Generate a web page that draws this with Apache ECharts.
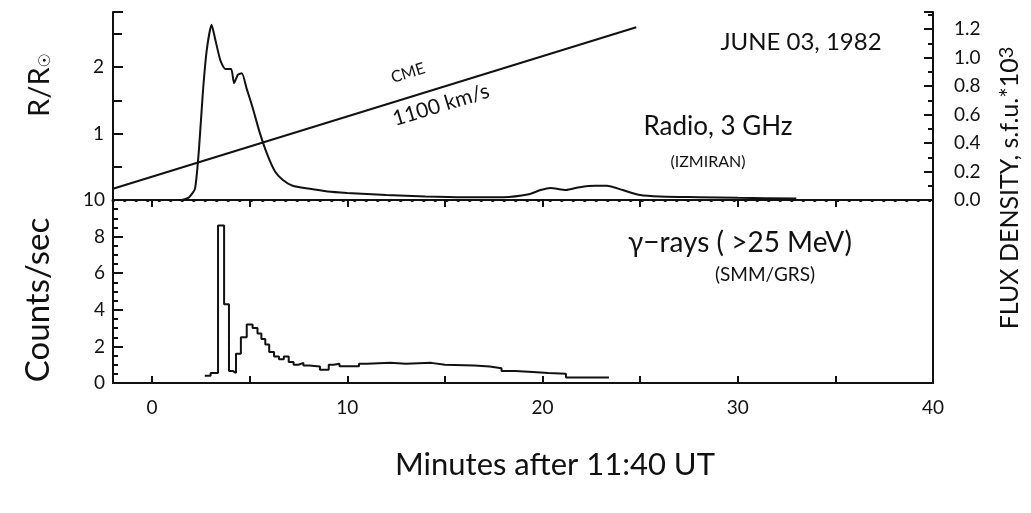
<!DOCTYPE html>
<html>
<head>
<meta charset="utf-8">
<script src="https://cdn.jsdelivr.net/npm/echarts@6/dist/echarts.min.js"></script>
<style>
html,body{margin:0;padding:0;background:#fff;}
#chart{width:1031px;height:513px;}
</style>
</head>
<body>
<div id="chart"></div>
<script>
// ---- data ----
const radioTime = [0.5, 1.5, 1.9, 2.2, 2.4, 2.6, 2.8, 3.05, 3.25, 3.5, 3.75, 4.05, 4.2, 4.4, 4.6, 4.85, 5.15, 5.5, 5.9, 6.3, 6.7, 7.2, 8, 9, 10, 12, 14, 16, 18, 19.3, 19.9, 20.4, 21.2, 21.9, 22.7, 23.3, 24.1, 25.0, 26, 28, 30, 33];
const radioFlux = [0, 0, 0.02, 0.08, 0.35, 0.75, 1.05, 1.23, 1.12, 0.98, 0.92, 0.92, 0.82, 0.88, 0.89, 0.78, 0.65, 0.48, 0.32, 0.2, 0.14, 0.1, 0.08, 0.06, 0.05, 0.035, 0.025, 0.02, 0.02, 0.04, 0.07, 0.085, 0.07, 0.09, 0.1, 0.1, 0.07, 0.035, 0.025, 0.02, 0.015, 0.01];

const gammaTime = [2.7, 3.0, 3.38, 3.69, 3.94, 4.15, 4.3, 4.55, 4.85, 5.15, 5.4, 5.6, 5.8, 6.0, 6.25, 6.5, 6.75, 7.0, 7.25, 7.5, 7.75, 8.05, 8.6, 9.05, 9.3, 9.6, 10.6, 11.0, 12.2, 13.0, 14.3, 15.0, 16.5, 17.3, 17.9, 18.6, 19.5, 20.3, 21.2, 23.4];
const gammaCounts = [0.4, 0.55, 8.6, 4.3, 0.65, 0.55, 1.6, 2.5, 3.2, 3.0, 2.7, 2.4, 2.1, 1.7, 1.45, 1.3, 1.45, 1.15, 1.0, 1.1, 0.95, 0.9, 0.72, 1.0, 1.05, 0.92, 1.05, 1.1, 1.05, 1.1, 1.0, 0.95, 0.9, 0.8, 0.65, 0.6, 0.55, 0.5, 0.3, 0.3];

const cmeTime = [-2, 24.8];
const cmeHeight = [0.17, 2.6];

const xLabelTicks = [0, 10, 20, 30, 40];
const xMinorTicks = [0, 5, 10, 15, 20, 25, 30, 35, 40];
const rLabelTicks = [1, 2];

// ---- chart ----
const FONT = 'Lato';
const INK = '#111';
const chart = echarts.init(document.getElementById('chart'), null, {renderer: 'canvas'});

const zip = (a, b) => a.map((v, i) => [v, b[i]]);

const L = 113, R = 933, TOP = 12, MID = 200, BOT = 383;

function txt(text, x, y, size, rot) {
  return {
    type: 'text', x: x, y: y, rotation: (rot || 0) * Math.PI / 180,
    style: {text: text, fill: INK, font: size + 'px ' + FONT, align: 'center', verticalAlign: 'middle'}
  };
}

const option = {
  backgroundColor: '#fff',
  animation: false,
  grid: [
    {left: L, right: 1031 - R, top: TOP, height: MID - TOP, outerBoundsMode: 'none', containLabel: false},
    {left: L, right: 1031 - R, top: MID, height: BOT - MID, outerBoundsMode: 'none', containLabel: false}
  ],
  xAxis: [
    { // top panel: dotted zero line
      gridIndex: 0, type: 'value', min: -2, max: 40, position: 'bottom',
      axisLine: {show: true, onZero: false, lineStyle: {color: INK, width: 3, type: [0.5, 11], cap: 'round'}},
      axisTick: {show: false}, axisLabel: {show: false}, splitLine: {show: false}
    },
    { // top frame
      gridIndex: 0, type: 'value', min: -2, max: 40, position: 'top',
      axisLine: {show: true, lineStyle: {color: INK, width: 2}},
      axisTick: {show: true, inside: true, length: 7, customValues: xMinorTicks, lineStyle: {color: INK, width: 2}},
      axisLabel: {show: false}, splitLine: {show: false}
    },
    { // bottom axis
      gridIndex: 1, type: 'value', min: -2, max: 40, position: 'bottom',
      axisLine: {show: true, onZero: false, lineStyle: {color: INK, width: 2}},
      axisTick: {show: true, inside: true, length: 7, customValues: xMinorTicks, lineStyle: {color: INK, width: 2}},
      axisLabel: {show: true, customValues: xLabelTicks, margin: 15, color: INK, fontFamily: FONT, fontSize: 19},
      splitLine: {show: false}
    }
  ],
  yAxis: [
    { // R/Rsun
      gridIndex: 0, type: 'value', min: 0, max: 2.83, interval: 1, position: 'left',
      axisLine: {show: true, onZero: false, lineStyle: {color: INK, width: 2}},
      axisTick: {show: true, inside: true, length: 10, lineStyle: {color: INK, width: 2}},
      minorTick: {show: true, splitNumber: 2, length: 9, lineStyle: {color: INK, width: 2}},
      axisLabel: {show: true, margin: 9, color: INK, fontFamily: FONT, fontSize: 19,
        formatter: v => (rLabelTicks.indexOf(v) >= 0 ? String(v) : '')},
      splitLine: {show: false}, minorSplitLine: {show: false}
    },
    { // flux density
      gridIndex: 0, type: 'value', min: 0, max: 1.32, interval: 0.2, position: 'right',
      axisLine: {show: true, onZero: false, lineStyle: {color: INK, width: 2}},
      axisTick: {show: true, inside: true, length: 9, lineStyle: {color: INK, width: 2}},
      minorTick: {show: true, splitNumber: 2, length: 5, lineStyle: {color: INK, width: 2}},
      axisLabel: {show: true, margin: 21, color: INK, fontFamily: FONT, fontSize: 19,
        formatter: v => (v > 1.25 ? '' : v.toFixed(1))},
      splitLine: {show: false}, minorSplitLine: {show: false}
    },
    { // counts/sec
      gridIndex: 1, type: 'value', min: 0, max: 10, interval: 2, position: 'left',
      axisLine: {show: true, onZero: false, lineStyle: {color: INK, width: 2}},
      axisTick: {show: true, inside: true, length: 10, lineStyle: {color: INK, width: 2}},
      minorTick: {show: true, splitNumber: 4, length: 5, lineStyle: {color: INK, width: 2}},
      axisLabel: {show: true, margin: 8, color: INK, fontFamily: FONT, fontSize: 19},
      splitLine: {show: false}, minorSplitLine: {show: false}
    },
    { // right frame, bottom panel
      gridIndex: 1, type: 'value', min: 0, max: 10, position: 'right',
      axisLine: {show: true, onZero: false, lineStyle: {color: INK, width: 2}},
      axisTick: {show: false}, axisLabel: {show: false}, splitLine: {show: false}
    }
  ],
  series: [
    {
      name: 'Radio 3 GHz', type: 'line', xAxisIndex: 0, yAxisIndex: 1,
      data: zip(radioTime, radioFlux), smooth: 0.2, showSymbol: false,
      lineStyle: {color: INK, width: 2}
    },
    {
      name: 'CME', type: 'line', xAxisIndex: 0, yAxisIndex: 0,
      data: zip(cmeTime, cmeHeight), showSymbol: false,
      lineStyle: {color: INK, width: 2}
    },
    {
      name: 'gamma', type: 'line', xAxisIndex: 2, yAxisIndex: 2,
      data: zip(gammaTime, gammaCounts), step: 'end', showSymbol: false,
      lineStyle: {color: INK, width: 2}
    }
  ],
  graphic: [
    txt('JUNE 03, 1982', 801, 42, 24, 0),
    txt('Radio, 3 GHz', 718, 127, 26, 0),
    txt('(IZMIRAN)', 708, 162, 16, 0),
    txt('\u03b3\u2212rays ( >25 MeV)', 740, 243, 28, 0),
    txt('(SMM/GRS)', 765, 275, 19, 0),
    txt('CME', 408, 73, 16, 17),
    txt('1100 km/s', 441, 105, 21, 17),
    txt('Counts/sec', 38, 300, 33, 90),
    txt('Minutes after 11:40 UT', 555, 465, 31, 0),
    {
      type: 'text', x: 1010, y: 188, rotation: Math.PI / 2,
      style: {
        text: 'FLUX DENSITY, s.f.u.*10{p|3}', fill: INK, font: '25px ' + FONT, align: 'center', verticalAlign: 'middle',
        rich: {p: {fontSize: 20, fontFamily: FONT, fill: INK, padding: [0, 0, 6, 0]}}
      }
    },
    {
      type: 'text', x: 40, y: 85, rotation: Math.PI / 2,
      style: {
        text: 'R/R{s|\u2609}', fill: INK, font: '29px ' + FONT, align: 'center', verticalAlign: 'middle',
        rich: {s: {fontSize: 16, fontFamily: 'DejaVu Sans', fill: INK, padding: [12, 0, 0, 0]}}
      }
    }
  ]
};

chart.setOption(option);
</script>
</body>
</html>
